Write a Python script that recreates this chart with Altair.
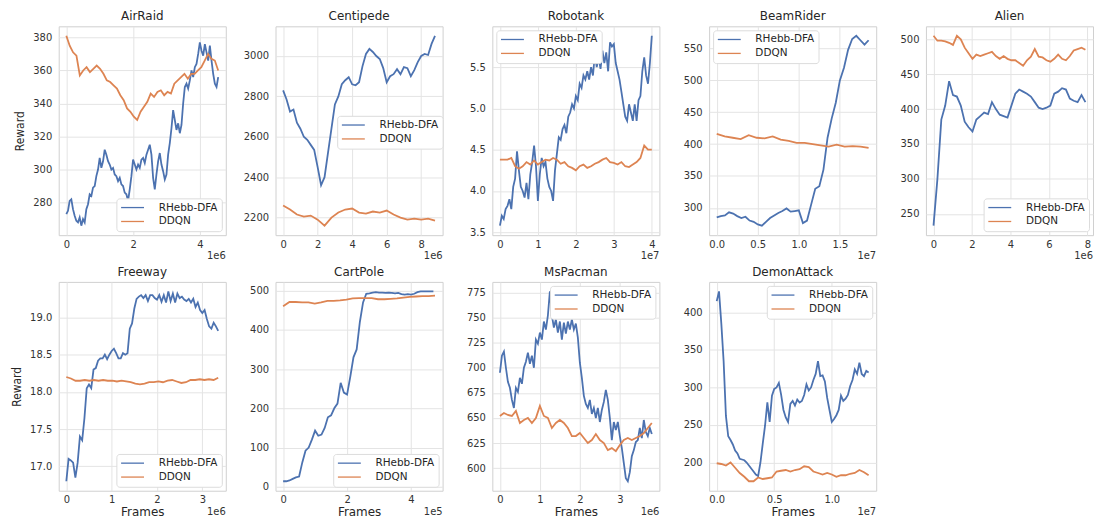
import altair as alt
import numpy as np
import pandas as pd

FONT = "DejaVu Sans"
NARROW = "DejaVu Sans Condensed, Liberation Sans Narrow, DejaVu Sans, sans-serif"
SERIES = ["RHebb-DFA", "DDQN"]
COLORS = ["#4C72B0", "#DD8452"]
W, H = 168, 210

# ---------------- AirRaid ----------------
airraid_xend = [4.55, 4.55]
airraid_rhebb = [273, 275, 281, 282, 276, 272, 269, 268, 271, 266,
                 270, 268, 276, 279, 285, 284, 289, 290, 296, 300,
                 307, 301, 305, 312, 309, 305, 303, 300, 301, 297,
                 296, 293, 295, 291, 290, 286, 285, 281, 288, 296,
                 306, 303, 300, 303, 301, 306, 307, 304, 309, 312,
                 315, 309, 295, 288, 297, 305, 310, 303, 299, 294,
                 297, 309, 316, 325, 336, 330, 324, 328, 322, 327,
                 340, 350, 352, 349, 354, 360, 356, 362, 364, 370,
                 377, 372, 369, 376, 371, 366, 375, 366, 358, 352,
                 350, 356]
airraid_ddqn = [381, 375, 371, 369, 357, 360, 362, 359, 361, 363,
                361, 358, 354, 353, 351, 349, 345, 342, 337, 335,
                332, 330, 335, 338, 341, 346, 344, 347, 348, 345,
                347, 346, 352, 354, 356, 358, 355, 358, 358, 360,
                362, 366, 370, 367, 366, 360]
airraid_xticks = [0, 2, 4]
airraid_yticks = [280, 300, 320, 340, 360, 380]

# ---------------- Centipede ----------------
centipede_xend = [8.8, 8.8]
centipede_rhebb = [2830, 2785, 2725, 2735, 2670, 2640, 2600, 2585, 2560, 2535,
                   2450, 2360, 2400, 2520, 2640, 2760, 2800, 2860, 2880, 2895,
                   2860, 2855, 2870, 2950, 3010, 3035, 3020, 3000, 2985, 2940,
                   2870, 2900, 2910, 2935, 2910, 2945, 2940, 2900, 2930, 2970,
                   3000, 3010, 3005, 3060, 3100]
centipede_ddqn = [2260, 2240, 2215, 2205, 2210, 2190, 2160, 2200, 2225, 2240,
                  2245, 2225, 2220, 2230, 2225, 2235, 2215, 2200, 2190, 2195,
                  2190, 2195, 2185]
centipede_xticks = [0, 2, 4, 6, 8]
centipede_yticks = [2200, 2400, 2600, 2800, 3000]

# ---------------- Robotank ----------------
robotank_xend = [4.0, 4.0]
robotank_rhebb = [3.58, 3.70, 3.66, 3.78, 3.82, 3.90, 3.78, 4.05, 4.15, 4.48,
                  4.25, 4.05, 4.00, 3.92, 4.10, 3.90, 4.20, 4.35, 4.55, 4.30,
                  3.88, 4.20, 4.40, 4.30, 4.35, 4.15, 4.05, 4.00, 3.88, 4.25,
                  4.45, 4.65, 4.62, 4.75, 4.80, 4.70, 4.90, 4.95, 5.05, 5.00,
                  5.15, 5.10, 5.30, 5.25, 5.40, 5.35, 5.45, 5.35, 5.50, 5.40,
                  5.65, 5.50, 5.62, 5.48, 5.70, 5.55, 5.68, 5.45, 5.80, 5.75,
                  5.78, 5.55, 5.45, 5.35, 5.20, 5.05, 4.90, 4.85, 5.05, 4.95,
                  4.85, 5.05, 4.85, 5.10, 5.15, 5.45, 5.62, 5.40, 5.30, 5.55,
                  5.88]
robotank_ddqn = [4.38, 4.38, 4.38, 4.40, 4.30, 4.27, 4.30, 4.35, 4.32, 4.37,
                 4.32, 4.35, 4.38, 4.37, 4.40, 4.38, 4.33, 4.35, 4.30, 4.28,
                 4.25, 4.30, 4.32, 4.28, 4.30, 4.33, 4.35, 4.38, 4.40, 4.35,
                 4.34, 4.32, 4.35, 4.30, 4.29, 4.32, 4.35, 4.40, 4.55, 4.50,
                 4.50]
robotank_xticks = [0, 1, 2, 3, 4]
robotank_yticks = [3.5, 4.0, 4.5, 5.0, 5.5, 6.0]

# ---------------- BeamRider ----------------
beamrider_xend = [1.85, 1.85]
beamrider_rhebb = [285, 287, 288, 293, 291, 287, 284, 286, 280, 278,
                   274, 272, 278, 284, 288, 292, 295, 299, 294, 295,
                   296, 276, 280, 305, 330, 334, 360, 410, 440, 465,
                   500, 520, 548, 565, 570, 563, 556, 563]
beamrider_ddqn = [416, 412, 410, 408, 414, 410, 409, 412, 407, 405,
                  402, 402, 400, 398, 396, 399, 396, 397, 396, 394]
beamrider_xticks = [0.0, 0.5, 1.0, 1.5]
beamrider_yticks = [300, 350, 400, 450, 500, 550]

# ---------------- Alien ----------------
alien_xend = [7.9, 7.9]
alien_rhebb = [233, 300, 385, 405, 440, 420, 418, 405, 382, 374,
               368, 385, 390, 395, 393, 410, 400, 392, 390, 388,
               405, 422, 428, 425, 422, 418, 410, 402, 400, 402,
               405, 422, 425, 430, 428, 415, 412, 410, 420, 410]
alien_ddqn = [505, 498, 498, 497, 495, 492, 505, 500, 488, 480,
              472, 478, 476, 478, 480, 482, 476, 472, 476, 472,
              470, 470, 466, 462, 470, 475, 486, 475, 474, 470,
              468, 472, 478, 472, 470, 476, 484, 486, 488, 485]
alien_xticks = [0, 2, 4, 6, 8]
alien_yticks = [250, 300, 350, 400, 450, 500]

# ---------------- Freeway ----------------
freeway_xend = [3.35, 3.35]
freeway_rhebb = [16.80, 17.10, 17.08, 17.05, 16.85, 17.05, 17.40, 17.35, 17.65, 18.05,
                 18.10, 18.05, 18.30, 18.32, 18.42, 18.45, 18.45, 18.50, 18.44, 18.50,
                 18.55, 18.58, 18.52, 18.45, 18.45, 18.52, 18.50, 18.52, 18.85, 18.92,
                 19.12, 19.25, 19.28, 19.30, 19.26, 19.30, 19.22, 19.30, 19.30, 19.26,
                 19.24, 19.30, 19.21, 19.30, 19.20, 19.35, 19.22, 19.32, 19.20, 19.32,
                 19.26, 19.28, 19.24, 19.22, 19.25, 19.20, 19.25, 19.14, 19.20, 19.10,
                 19.06, 19.10, 18.98, 18.88, 18.85, 18.93, 18.88, 18.82]
freeway_ddqn = [18.20, 18.18, 18.15, 18.15, 18.16, 18.15, 18.16, 18.15, 18.16, 18.15,
                18.15, 18.14, 18.15, 18.14, 18.13, 18.11, 18.10, 18.11, 18.13, 18.13,
                18.14, 18.13, 18.15, 18.16, 18.14, 18.12, 18.13, 18.16, 18.16, 18.17,
                18.16, 18.17, 18.16, 18.19]
freeway_xticks = [0, 1, 2, 3]
freeway_yticks = [17.0, 17.5, 18.0, 18.5, 19.0]

# ---------------- CartPole ----------------
cartpole_xend = [4.7, 4.75]
cartpole_rhebb = [14, 14, 16, 20, 24, 26, 62, 92, 100, 120,
                  143, 130, 133, 150, 177, 182, 200, 212, 265, 240,
                  235, 280, 330, 350, 420, 470, 492, 493, 495, 496,
                  495, 495, 494, 495, 494, 493, 494, 491, 490, 491,
                  490, 492, 496, 498, 498, 498, 498, 498]
cartpole_ddqn = [460, 471, 471, 470, 470, 467, 470, 474, 474, 475,
                 477, 480, 481, 481, 481, 478, 478, 479, 480, 482,
                 484, 485, 486, 486, 487]
cartpole_xticks = [0, 2, 4]
cartpole_yticks = [0, 100, 200, 300, 400, 500]

# ---------------- MsPacman ----------------
mspacman_xend = [3.8, 3.8]
mspacman_rhebb = [695, 712, 716, 700, 686, 680, 668, 660, 680, 676,
                  690, 684, 700, 706, 715, 704, 712, 700, 728, 724,
                  735, 728, 746, 738, 752, 776, 752, 740, 748, 735,
                  746, 728, 745, 734, 746, 738, 748, 738, 744, 730,
                  705, 690, 672, 664, 660, 668, 654, 660, 650, 660,
                  646, 658, 666, 678, 668, 650, 628, 646, 638, 646,
                  632, 620, 605, 590, 587, 596, 612, 618, 626, 628,
                  640, 630, 648, 636, 632, 640, 634]
mspacman_ddqn = [652, 655, 653, 652, 657, 645, 648, 650, 645, 650,
                 662, 652, 650, 640, 645, 648, 645, 640, 632, 632,
                 635, 630, 625, 628, 634, 628, 625, 618, 620, 617,
                 623, 628, 630, 628, 630, 632, 635, 640, 645]
mspacman_xticks = [0, 1, 2, 3]
mspacman_yticks = [600, 625, 650, 675, 700, 725, 750, 775]

# ---------------- DemonAttack ----------------
demon_xend = [1.32, 1.32]
demon_rhebb = [415, 428, 385, 335, 262, 235, 230, 224, 216, 212,
               205, 204, 203, 200, 196, 192, 188, 184, 182, 200,
               225, 249, 280, 254, 289, 298, 300, 306, 290, 270,
               260, 254, 278, 282, 276, 284, 280, 282, 290, 304,
               296, 300, 310, 318, 335, 315, 316, 308, 286, 270,
               254, 258, 263, 270, 289, 282, 285, 290, 302, 310,
               324, 318, 333, 318, 315, 322, 320]
demon_ddqn = [199, 198, 196, 200, 193, 186, 181, 175, 175, 180,
              178, 179, 180, 188, 189, 190, 188, 190, 191, 195,
              194, 188, 186, 184, 186, 184, 181, 183, 183, 185,
              186, 190, 187, 183]
demon_xticks = [0.0, 0.5, 1.0]
demon_yticks = [200, 250, 300, 350, 400]

PANELS = [
    dict(title="AirRaid", xend=airraid_xend, blue=airraid_rhebb, orange=airraid_ddqn,
         xticks=airraid_xticks, yticks=airraid_yticks, xfmt="d", yfmt="d", exp="1e6",
         legend=dict(orient="bottom-right")),
    dict(title="Centipede", xend=centipede_xend, blue=centipede_rhebb, orange=centipede_ddqn,
         xticks=centipede_xticks, yticks=centipede_yticks, xfmt="d", yfmt="d", exp="1e6",
         legend=dict(orient="none", legendX=62, legendY=90)),
    dict(title="Robotank", xend=robotank_xend, blue=robotank_rhebb, orange=robotank_ddqn,
         xticks=robotank_xticks, yticks=robotank_yticks, xfmt="d", yfmt=".1f", exp="1e7",
         legend=dict(orient="top-left")),
    dict(title="BeamRider", xend=beamrider_xend, blue=beamrider_rhebb, orange=beamrider_ddqn,
         xticks=beamrider_xticks, yticks=beamrider_yticks, xfmt=".1f", yfmt="d", exp="1e7",
         legend=dict(orient="top-left")),
    dict(title="Alien", xend=alien_xend, blue=alien_rhebb, orange=alien_ddqn,
         xticks=alien_xticks, yticks=alien_yticks, xfmt="d", yfmt="d", exp="1e6",
         legend=dict(orient="bottom-right")),
    dict(title="Freeway", xend=freeway_xend, blue=freeway_rhebb, orange=freeway_ddqn,
         xticks=freeway_xticks, yticks=freeway_yticks, xfmt="d", yfmt=".1f", exp="1e6",
         legend=dict(orient="bottom-right")),
    dict(title="CartPole", xend=cartpole_xend, blue=cartpole_rhebb, orange=cartpole_ddqn,
         xticks=cartpole_xticks, yticks=cartpole_yticks, xfmt="d", yfmt="d", exp="1e5",
         legend=dict(orient="bottom-right")),
    dict(title="MsPacman", xend=mspacman_xend, blue=mspacman_rhebb, orange=mspacman_ddqn,
         xticks=mspacman_xticks, yticks=mspacman_yticks, xfmt="d", yfmt="d", exp="1e6",
         legend=dict(orient="top-right")),
    dict(title="DemonAttack", xend=demon_xend, blue=demon_rhebb, orange=demon_ddqn,
         xticks=demon_xticks, yticks=demon_yticks, xfmt=".1f", yfmt="d", exp="1e7",
         legend=dict(orient="top-right")),
]


def make_panel(p, row, col):
    xb = np.linspace(0, p["xend"][0], len(p["blue"]))
    xo = np.linspace(0, p["xend"][1], len(p["orange"]))
    df = pd.DataFrame({
        "x": np.concatenate([xb, xo]),
        "y": list(p["blue"]) + list(p["orange"]),
        "s": [SERIES[0]] * len(xb) + [SERIES[1]] * len(xo),
        "o": [0] * len(xb) + [1] * len(xo),
    })
    xmax = float(max(p["xend"]))
    xpad = 0.05 * xmax
    ymin, ymax = float(df["y"].min()), float(df["y"].max())
    ypad = 0.05 * (ymax - ymin)

    leg = alt.Legend(title=None, fillColor="white", strokeColor="#dcdcdc",
                     cornerRadius=3, padding=4, symbolType="M-3,0H3",
                     symbolSize=59, symbolStrokeWidth=1.3, symbolOffset=7,
                     labelFont=FONT, labelFontSize=10.5, labelColor="#262626",
                     rowPadding=3, labelOffset=21, offset=4, **p["legend"])

    xaxis_kw = dict(values=p["xticks"], format=p["xfmt"])
    xaxis_kw["title"] = "Frames" if row == 1 else None
    yaxis_kw = dict(values=p["yticks"], format=p["yfmt"])
    yaxis_kw["title"] = "Reward" if col == 0 else None

    lines = alt.Chart(df).mark_line(strokeWidth=1.8).encode(
        x=alt.X("x:Q", scale=alt.Scale(domain=[-xpad, xmax + xpad], nice=False, zero=False),
                axis=alt.Axis(**xaxis_kw)),
        y=alt.Y("y:Q", scale=alt.Scale(domain=[ymin - ypad, ymax + ypad], nice=False, zero=False),
                axis=alt.Axis(**yaxis_kw)),
        color=alt.Color("s:N", scale=alt.Scale(domain=SERIES, range=COLORS), legend=leg),
        detail="o:O",
    )
    exp_df = pd.DataFrame({"t": [p["exp"]]})
    exp_text = alt.Chart(exp_df).mark_text(
        align="right", baseline="middle", font=FONT, fontSize=10, color="#333333"
    ).encode(
        text="t:N",
        x=alt.value(W),
        y=alt.value(H + 21),
    )
    return alt.layer(lines, exp_text).properties(
        width=W, height=H,
        title=alt.TitleParams(p["title"], font=FONT, fontSize=12, color="#262626",
                              fontWeight="normal", offset=3, frame="group"),
    )


panels = []
for i, p in enumerate(PANELS):
    panels.append(make_panel(p, i // 5, i % 5))

chart = alt.concat(
    *panels, columns=5, spacing={"row": 47, "column": 50}, bounds="flush"
).resolve_scale(
    x="independent", y="independent", color="independent"
).resolve_legend(
    color="independent"
).configure_view(
    stroke="#d0d0d0", strokeWidth=1
).configure_axis(
    grid=True, gridColor="#e4e4e4", gridWidth=1, domain=False, ticks=False,
    labelFont=FONT, labelFontSize=10, labelColor="#333333", labelFlush=False,
    labelOverlap=False,
    titleFont=NARROW, titleFontSize=12, titleColor="#262626",
    titleFontWeight="normal",
).configure_axisX(
    labelPadding=4, titlePadding=2, titleFont=FONT, titleFontSize=12,
).configure_axisY(
    labelPadding=7, titlePadding=6,
).properties(
    padding={"left": 2, "top": 0, "right": 0, "bottom": 0},
    background="white",
)

chart.save("out.html", embed_options={"renderer": "svg", "actions": False})
